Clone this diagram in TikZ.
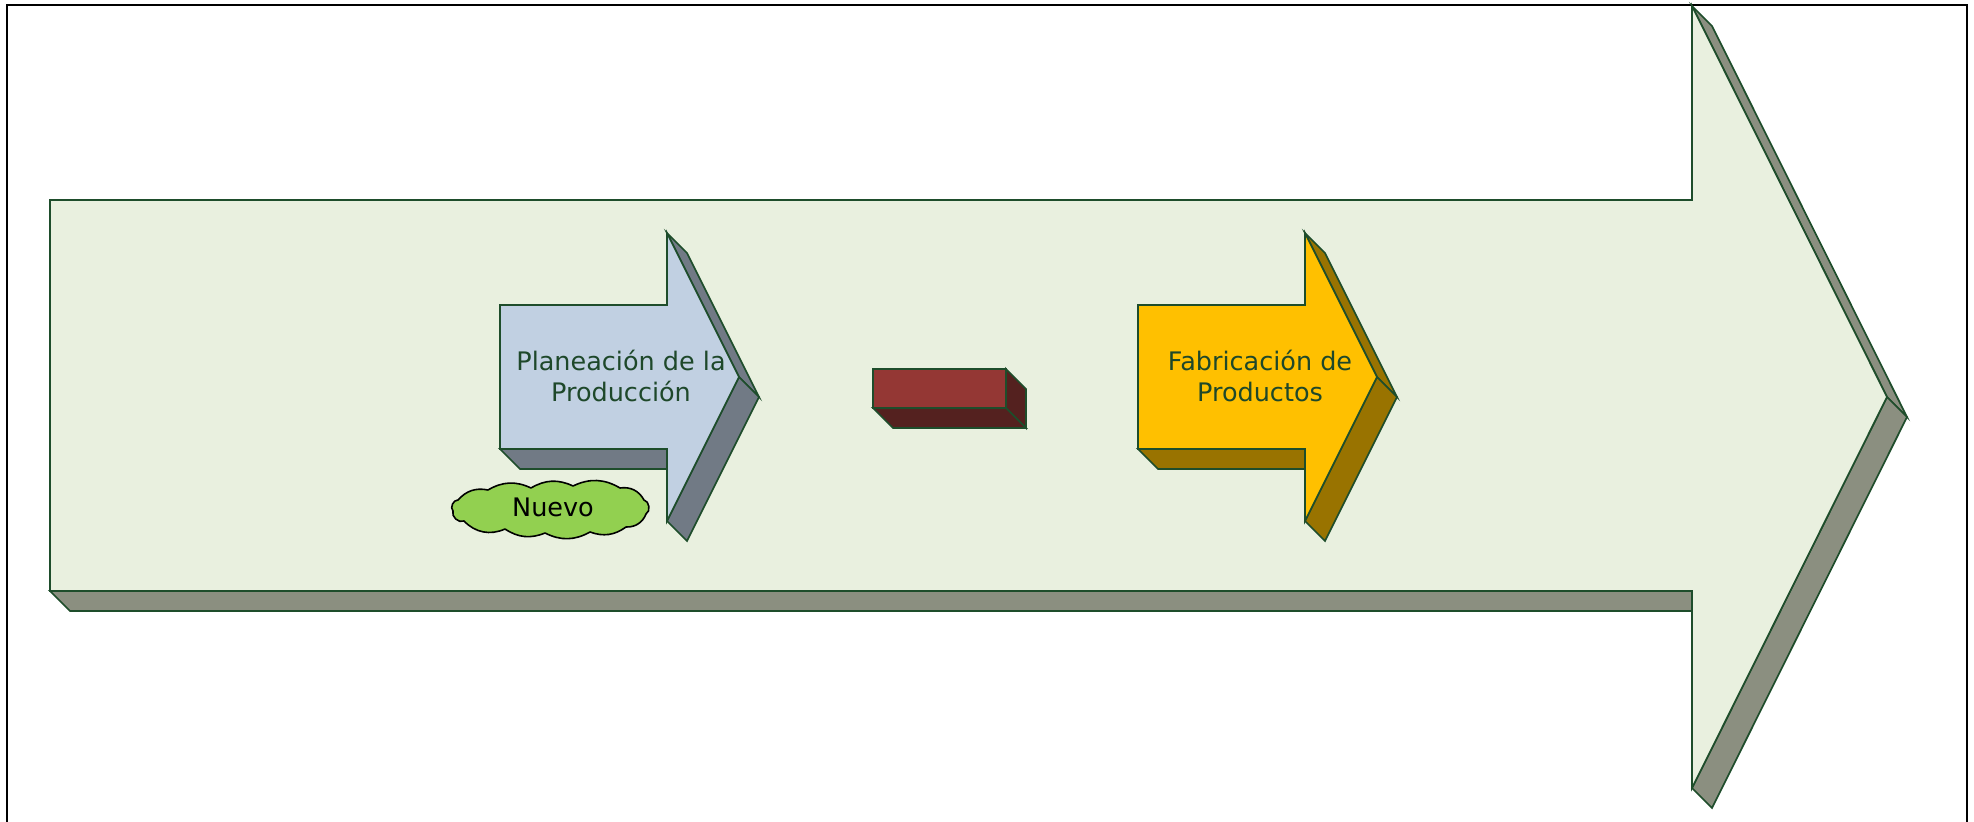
\documentclass[tikz,border=0pt]{standalone}
\usepackage{fontspec}
\setmainfont{DejaVu Sans}

\definecolor{edgegreen}{RGB}{30,77,43}
\definecolor{panelfill}{RGB}{233,240,223}
\definecolor{panelside}{RGB}{139,143,128}
\definecolor{bluefill}{RGB}{193,208,226}
\definecolor{blueside}{RGB}{113,122,133}
\definecolor{goldfill}{RGB}{255,192,0}
\definecolor{goldside}{RGB}{153,115,0}
\definecolor{brickfill}{RGB}{148,55,52}
\definecolor{brickside}{RGB}{84,33,31}
\definecolor{leafgreen}{RGB}{146,208,80}
\definecolor{textgreen}{RGB}{30,72,42}

\tikzset{
  face/.style={draw=edgegreen, line width=0.85pt, line join=miter},
  captiontext/.style={text=textgreen, align=center, inner sep=0pt,
    font=\fontsize{12.75pt}{15.3pt}\selectfont},
  bubble/.style={draw=black, fill=leafgreen, line width=0.8pt, line join=round},
  bubbletext/.style={text=black, inner sep=0pt,
    font=\fontsize{12.75pt}{15.3pt}\selectfont},
  lobe/.style={bend left=#1},
}

% one extruded block arrow: shaft x 500..667, y 305..449, head 233..521, tip at x 739
\newcommand{\blockarrow}[2]{%
  \filldraw[face, fill=#2] (500,449) -- (520,469) -- (667,469) -- (667,449) -- cycle;
  \filldraw[face, fill=#2] (667,233) -- (687,253) -- (759,397) -- (739,377) -- cycle;
  \filldraw[face, fill=#2] (739,377) -- (759,397) -- (687,541) -- (667,521) -- cycle;
  \filldraw[face, fill=#1] (500,305) -- (667,305) -- (667,233) -- (739,377)
    -- (667,521) -- (667,449) -- (500,449) -- cycle;
}

\begin{document}
\begin{tikzpicture}[x=0.5pt, y=-0.5pt]
  \useasboundingbox (0,0) rectangle (1974,822);
  \clip (0,0) rectangle (1974,822);
  \fill[white] (0,0) rectangle (1974,822);

  % frame
  \draw[black, line width=1pt] (7,840) -- (7,5) -- (1967,5) -- (1967,840);

  % large background arrow with its depth faces
  \filldraw[face, fill=panelside] (50,591) -- (70,611) -- (1692,611) -- (1692,591) -- cycle;
  \filldraw[face, fill=panelside] (1692,6) -- (1712,26) -- (1907,417) -- (1887,397) -- cycle;
  \filldraw[face, fill=panelside] (1887,397) -- (1907,417) -- (1712,808) -- (1692,788) -- cycle;
  \filldraw[face, fill=panelfill] (50,200) -- (1692,200) -- (1692,6) -- (1887,397)
    -- (1692,788) -- (1692,591) -- (50,591) -- cycle;

  % first step arrow
  \blockarrow{bluefill}{blueside}
  \node[captiontext] (planeacion) at (621,376) {Planeación de la\\Producción};

  % second step arrow
  \begin{scope}[shift={(638,0)}]
    \blockarrow{goldfill}{goldside}
  \end{scope}
  \node[captiontext] (fabricacion) at (1260,376) {Fabricación de\\Productos};

  % small brick between the steps
  \filldraw[face, fill=brickside] (1006,369) -- (1026,389) -- (1026,428) -- (1006,408) -- cycle;
  \filldraw[face, fill=brickside] (873,408) -- (893,428) -- (1026,428) -- (1006,408) -- cycle;
  \filldraw[face, fill=brickfill] (873,369) rectangle (1006,408);

  % cloud tag
  \filldraw[bubble]
    (458,500) to[lobe=30] (488,490) to[lobe=28] (531,488) to[lobe=28] (573,486)
    to[lobe=28] (620,488) to[lobe=35] (644,500) to[lobe=70] (646,514)
    to[lobe=35] (626,527) to[lobe=28] (590,532) to[lobe=28] (545,533)
    to[lobe=28] (505,529) to[lobe=35] (464,521) to[lobe=70] (453,511)
    to[lobe=70] (458,500) -- cycle;
  \node[bubbletext] (nuevo) at (553,507) {Nuevo};
\end{tikzpicture}
\end{document}
